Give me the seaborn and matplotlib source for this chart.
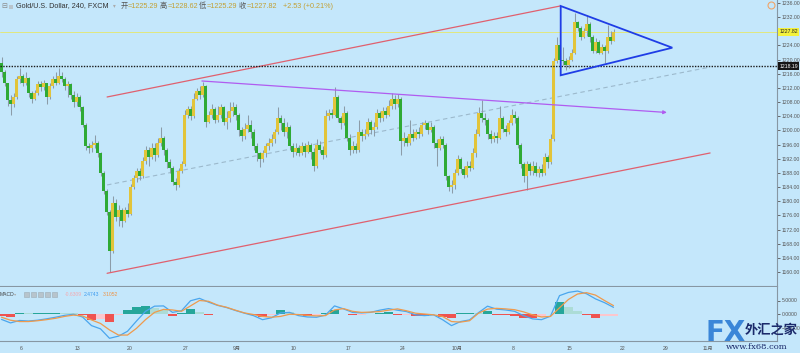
import numpy as np
import pandas as pd
import matplotlib
matplotlib.use("Agg")
import matplotlib.pyplot as plt
import matplotlib.transforms as mtransforms
from matplotlib.patches import Polygon, Rectangle
from matplotlib.lines import Line2D
from matplotlib import font_manager
import seaborn as sns

# ---------------- data ----------------
first_open = 1219.0
close = [
    1216.5, 1213.5, 1208.5, 1207.5, 1209.5, 1214.5, 1215.5, 1213.5, 1214.8, 1210.5,
    1209.0, 1210.5, 1213.0, 1212.2, 1213.4, 1209.5, 1212.5, 1214.5, 1213.5, 1215.5,
    1214.5, 1212.5, 1213.0, 1210.0, 1208.0, 1209.5, 1206.5, 1201.5, 1195.5, 1195.0,
    1196.0, 1196.5, 1193.5, 1188.0, 1183.0, 1177.0, 1166.0, 1179.5, 1175.5, 1177.5,
    1174.5, 1177.5, 1176.5, 1184.0, 1186.5, 1188.5, 1187.0, 1191.5, 1194.5, 1192.5,
    1195.0, 1193.0, 1196.5, 1198.0, 1194.5, 1191.0, 1189.5, 1185.5, 1184.5, 1188.5,
    1190.5, 1204.5, 1206.0, 1204.0, 1209.0, 1211.0, 1210.0, 1212.5, 1202.5, 1204.5,
    1206.0, 1203.0, 1204.5, 1206.5, 1202.5, 1203.5, 1205.5, 1206.5, 1204.5, 1200.0,
    1198.5, 1200.5, 1201.5, 1199.5, 1195.5, 1193.5, 1192.0, 1193.5, 1195.5, 1196.5,
    1197.5, 1199.5, 1203.5, 1202.0, 1199.5, 1201.0, 1195.5, 1194.0, 1195.0, 1193.5,
    1195.5, 1194.0, 1196.0, 1194.0, 1190.0, 1196.0, 1194.5, 1193.0, 1204.0, 1205.0,
    1204.5, 1209.5, 1203.5, 1202.0, 1205.0, 1198.0, 1194.5, 1195.5, 1194.5, 1199.5,
    1198.5, 1199.0, 1202.5, 1200.0, 1201.0, 1205.0, 1203.5, 1205.5, 1204.5, 1207.0,
    1209.0, 1207.5, 1209.0, 1197.0, 1198.0, 1196.5, 1199.0, 1198.0, 1199.5, 1199.0,
    1201.5, 1202.0, 1200.0, 1201.0, 1196.5, 1195.0, 1197.5, 1196.0, 1187.0, 1184.0,
    1184.5, 1188.0, 1192.0, 1189.0, 1187.5, 1190.0, 1189.5, 1193.5, 1199.0, 1205.0,
    1203.5, 1203.0, 1199.0, 1197.5, 1198.5, 1197.8, 1203.5, 1200.5, 1199.5, 1202.0,
    1204.5, 1203.5, 1196.0, 1190.5, 1187.0, 1190.5, 1188.5, 1190.0, 1188.0, 1189.0,
    1188.0, 1192.5, 1191.0, 1197.5, 1219.5, 1224.0, 1220.0, 1219.5, 1218.5, 1220.0,
    1222.0, 1230.5, 1229.0, 1226.5, 1228.0, 1230.0, 1226.5, 1222.5, 1225.0, 1222.0,
    1223.5, 1222.5, 1226.5, 1225.29, 1227.82,
]
high = [
    1220.8, 1217.0, 1213.5, 1210.0, 1210.5, 1215.5, 1217.6, 1216.0, 1216.5, 1215.0,
    1211.0, 1211.5, 1214.0, 1214.0, 1214.3, 1213.5, 1213.5, 1215.5, 1216.5, 1217.5,
    1216.5, 1215.0, 1214.0, 1213.5, 1211.0, 1210.5, 1210.0, 1207.0, 1202.0, 1196.5,
    1197.0, 1198.8, 1197.0, 1194.0, 1188.5, 1183.5, 1177.5, 1181.5, 1180.5, 1179.0,
    1178.0, 1178.5, 1179.5, 1185.0, 1187.5, 1189.5, 1189.5, 1192.5, 1195.5, 1195.3,
    1196.5, 1196.5, 1198.0, 1201.0, 1198.5, 1195.0, 1192.0, 1190.0, 1186.5, 1189.5,
    1191.5, 1205.8, 1207.0, 1206.8, 1210.5, 1212.0, 1212.5, 1213.8, 1212.8, 1205.5,
    1207.5, 1206.5, 1207.0, 1207.5, 1207.0, 1205.5, 1208.0, 1208.0, 1207.5, 1205.0,
    1201.0, 1202.0, 1204.5, 1203.0, 1200.5, 1196.5, 1194.0, 1194.5, 1196.5, 1198.0,
    1199.0, 1200.5, 1206.6, 1204.5, 1203.5, 1202.5, 1201.5, 1196.5, 1196.5, 1196.0,
    1196.8, 1196.5, 1197.0, 1196.5, 1195.0, 1197.5, 1197.0, 1195.5, 1205.8, 1206.0,
    1206.0, 1212.3, 1210.0, 1204.0, 1207.0, 1205.5, 1199.0, 1197.0, 1196.5, 1203.0,
    1200.5, 1200.5, 1203.5, 1203.0, 1202.5, 1206.0, 1205.5, 1206.5, 1206.5, 1208.5,
    1210.6, 1210.0, 1210.3, 1209.5, 1199.5, 1198.5, 1203.0, 1200.5, 1200.5, 1201.0,
    1202.5, 1203.0, 1202.5, 1202.5, 1201.5, 1197.5, 1198.5, 1198.5, 1196.5, 1187.5,
    1186.0, 1189.0, 1193.0, 1192.5, 1190.0, 1191.5, 1191.5, 1195.0, 1200.5, 1206.5,
    1208.6, 1205.0, 1203.5, 1200.0, 1199.5, 1199.5, 1207.0, 1204.0, 1201.5, 1203.0,
    1206.0, 1205.5, 1204.0, 1196.5, 1191.0, 1191.5, 1191.0, 1191.5, 1191.0, 1190.0,
    1190.5, 1193.5, 1193.0, 1199.0, 1220.5, 1226.4, 1224.5, 1223.7, 1220.5, 1221.0,
    1223.0, 1233.2, 1231.0, 1229.5, 1229.0, 1232.6, 1230.5, 1227.0, 1226.0, 1225.5,
    1224.5, 1224.0, 1229.8, 1228.0, 1228.62,
]
low = [
    1215.0, 1212.5, 1207.0, 1204.4, 1206.5, 1209.0, 1213.5, 1212.5, 1212.8, 1209.5,
    1207.8, 1208.5, 1210.0, 1211.0, 1211.5, 1207.5, 1209.0, 1212.0, 1212.8, 1213.0,
    1213.8, 1211.5, 1209.5, 1209.0, 1206.5, 1206.8, 1205.5, 1201.0, 1194.5, 1193.5,
    1194.0, 1195.0, 1192.5, 1187.0, 1182.0, 1176.0, 1160.1, 1165.5, 1174.5, 1173.0,
    1172.8, 1174.0, 1175.5, 1176.0, 1183.5, 1185.5, 1186.0, 1186.5, 1190.5, 1190.0,
    1192.0, 1191.5, 1192.5, 1195.5, 1193.0, 1189.5, 1188.0, 1184.5, 1183.2, 1184.0,
    1188.0, 1190.0, 1203.5, 1203.0, 1203.5, 1208.5, 1209.0, 1209.5, 1201.0, 1202.0,
    1203.5, 1202.0, 1202.5, 1203.5, 1201.5, 1200.5, 1202.5, 1204.0, 1203.0, 1198.5,
    1197.0, 1197.5, 1199.5, 1198.0, 1194.5, 1191.5, 1189.7, 1191.0, 1192.5, 1194.5,
    1195.5, 1196.5, 1199.0, 1200.0, 1198.5, 1198.0, 1194.5, 1192.5, 1193.0, 1192.8,
    1193.0, 1192.5, 1193.5, 1192.0, 1188.5, 1189.5, 1193.5, 1191.8, 1192.5, 1203.0,
    1203.5, 1204.0, 1202.5, 1200.5, 1201.5, 1197.0, 1193.2, 1193.5, 1193.6, 1194.0,
    1197.0, 1197.5, 1198.5, 1199.0, 1198.5, 1200.5, 1202.5, 1202.8, 1203.5, 1204.0,
    1206.0, 1206.0, 1206.5, 1193.0, 1195.5, 1195.5, 1196.0, 1197.0, 1197.5, 1198.0,
    1198.5, 1200.5, 1199.0, 1199.5, 1195.0, 1190.0, 1194.5, 1195.0, 1186.0, 1182.8,
    1182.3, 1183.5, 1187.5, 1188.0, 1186.5, 1186.8, 1188.5, 1189.0, 1192.5, 1198.5,
    1202.5, 1201.5, 1197.5, 1196.5, 1196.8, 1196.5, 1197.5, 1199.5, 1198.5, 1199.0,
    1201.5, 1202.0, 1195.0, 1189.5, 1185.5, 1183.2, 1187.5, 1187.5, 1187.0, 1186.8,
    1187.0, 1187.5, 1189.5, 1190.5, 1197.0, 1219.0, 1219.0, 1218.5, 1217.0, 1217.5,
    1219.5, 1221.5, 1228.0, 1225.5, 1226.0, 1226.8, 1225.0, 1221.8, 1222.0, 1221.5,
    1221.5, 1219.0, 1222.0, 1224.5, 1225.29,
]

# MACD (12,26,9) read every third bar
macd_line = [
    -2.0, -3.3, -2.4, -2.6, -2.3, -1.8, -1.2, -0.5, -0.1, -1.1,
    -4.3, -5.5, -9.0, -8.2, -6.4, -2.6, 1.0, 2.9, 3.0, 0.6,
    1.2, 4.9, 5.8, 4.4, 3.2, 2.4, 1.3, 0.3, -0.6, -2.1,
    -1.4, 0.4, 0.6, -0.6, -1.1, -1.2, -0.4, 3.0, 1.9, 0.6,
    0.4, 0.6, 1.4, 2.0, 1.4, 0.9, -0.3, -0.6, -0.3, -2.1,
    -4.3, -2.8, -2.2, 0.5, 2.9, 1.8, 1.5, 1.0, -0.6, -1.8,
    -2.1, -0.8, 6.8, 8.0, 8.5, 7.5, 5.6, 4.2, 2.4743,
]
signal_line = [
    -1.2, -2.3, -2.8, -2.8, -2.5, -2.1, -1.6, -0.9, -0.4, -0.7,
    -2.2, -3.5, -5.9, -7.8, -7.8, -5.3, -2.1, 0.6, 1.7, 1.5,
    1.0, 3.0, 5.0, 4.7, 3.3, 2.5, 1.4, 0.4, -0.2, -0.9,
    -1.2, -0.9, -0.1, -0.2, -0.5, -0.7, -0.6, 1.5, 2.0, 1.0,
    0.6, 0.7, 0.9, 1.4, 1.9, 1.2, 0.3, 0.0, -0.3, -0.9,
    -2.8, -3.0, -2.5, 0.3, 1.8, 2.1, 1.9, 1.6, 0.8, -0.3,
    -1.1, -0.9, 2.3, 5.4, 7.4, 7.9, 7.0, 5.0, 3.1052,
]
macd_step = 3

# trend-line drawings (bar index, price)
channel_upper = [(35.2, 1209.45), (186.2, 1235.15)]
channel_lower = [(35.2, 1159.64), (236.2, 1193.63)]
channel_mid = [(35.2, 1184.6), (236.2, 1217.9)]
purple_line = [(66.8, 1213.97), (221.8, 1205.07)]
triangle = [(186.4, 1235.15), (186.4, 1215.58), (223.6, 1223.37)]
dotted_level = 1218.19
last_price = 1227.82

x_tick_pos = [6.5, 25.2, 42.8, 61.5, 78.5, 97.5, 115.8, 133.8, 151.8, 170.5, 189.2, 207.2, 221.5, 235.5]
x_tick_lab = ["6", "13", "20", "27", "9月", "10", "17", "24", "10月", "8", "15", "22", "29", "11月"]

# ---------------- style ----------------
BG = "#c4e7fb"
UP = "#e2c43a"
DN = "#2faa35"
WICK = "#8c9ca8"
AXC = "#8797a3"
TXT = "#555555"

sns.set_theme(style="white", rc={"axes.facecolor": BG, "figure.facecolor": BG})
plt.rcParams["font.family"] = ["Liberation Sans", "Noto Sans CJK SC", "DejaVu Sans"]

names = {f.name for f in font_manager.fontManager.ttflist}
if "Liberation Sans Narrow" in names:
    AXFONT = ["Liberation Sans Narrow", "Noto Sans CJK SC", "DejaVu Sans"]
    AXFS = 4.6
else:
    AXFONT = ["Liberation Sans", "Noto Sans CJK SC", "DejaVu Sans"]
    AXFS = 3.7

W, H = 800, 353
fig = plt.figure(figsize=(W / 100, H / 100), dpi=100, facecolor=BG)


def fx(px):
    return px / W


def fy(py):
    return 1 - py / H


ax = fig.add_axes([0, fy(286), fx(777), 286 / H])
ax2 = fig.add_axes([0, fy(341), fx(777), (341 - 287) / H])
for a in (ax, ax2):
    a.set_facecolor(BG)
    for s in ("top", "left"):
        a.spines[s].set_visible(False)
    for s in ("right", "bottom"):
        a.spines[s].set_color(AXC)
        a.spines[s].set_linewidth(0.8)

# ---------------- candles ----------------
c = np.asarray(close)
hi = np.asarray(high)
lo = np.asarray(low)
o = np.r_[first_open, c[:-1]]
idx = np.arange(len(c))
up = c >= o
body_lo = np.minimum(o, c)
body_h = np.maximum(np.abs(c - o), 0.25)
ax.vlines(idx, np.minimum(lo, body_lo), np.maximum(hi, body_lo + body_h),
          color=WICK, lw=0.75, zorder=2)
ax.bar(idx, body_h, bottom=body_lo, width=0.7,
       color=np.where(up, UP, DN), linewidth=0, zorder=3)

# ---------------- drawings ----------------
def seg(pts, **kw):
    xs, ys = zip(*pts)
    ax.plot(xs, ys, **kw)

seg(channel_upper, color="#e0606e", lw=0.9, zorder=4)
seg(channel_lower, color="#e0606e", lw=0.9, zorder=4)
seg(channel_mid, color="#9cb9cc", lw=0.8, ls=(0, (4, 3)), zorder=1)
ax.annotate("", xy=purple_line[1], xytext=purple_line[0],
            arrowprops=dict(arrowstyle="-|>", color="#b05cf0", lw=0.9,
                            mutation_scale=5, shrinkA=0, shrinkB=0), zorder=4)
ax.add_patch(Polygon(triangle, closed=True, fill=False, edgecolor="#1f3de6",
                     lw=1.3, zorder=5))
ax.axhline(last_price, color="#e6e86a", lw=0.6, zorder=1)
ax.axhline(dotted_level, color="#1a1a1a", lw=1.0, ls=(0, (1, 1)), zorder=4)

ax.set_xlim(-0.5, 258.5)
ax.set_ylim(1156.05, 1236.85)
ax.set_xticks([])
ax.yaxis.tick_right()
yt = [v for v in np.arange(1160, 1237, 4) if abs(v - last_price) > 1.5]
ax.set_yticks(yt)
ax.yaxis.set_major_formatter("{x:.2f}")
ax.tick_params(axis="y", labelsize=AXFS, colors=TXT, length=2.5, width=0.6, pad=1.2)
for t in ax.get_yticklabels():
    t.set_family(AXFONT)
ax.set_ylabel("")

blend = mtransforms.blended_transform_factory(ax.transAxes, ax.transData)
ax.text(1.003, last_price, "1227.82", transform=blend, fontsize=AXFS, color="#222",
        va="center", ha="left", zorder=10, clip_on=False, family=AXFONT,
        bbox=dict(facecolor="#f4f23c", edgecolor="none", pad=0.9))
ax.text(1.003, dotted_level, "1218.19", transform=blend, fontsize=AXFS, color="white",
        va="center", ha="left", zorder=10, clip_on=False, family=AXFONT,
        bbox=dict(facecolor="#151515", edgecolor="none", pad=0.9))

# ---------------- MACD ----------------
mx = np.arange(len(macd_line)) * macd_step
m = np.asarray(macd_line)
sg = np.asarray(signal_line)
hist = m - sg
prev = np.r_[hist[0], hist[:-1]]
hcol = np.where(hist >= 0,
                np.where(hist >= prev, "#26a69a", "#acdcd6"),
                np.where(hist <= prev, "#ef5350", "#fcc6cd"))
ax2.bar(mx, hist, width=macd_step, color=hcol, linewidth=0, zorder=2)
mdf = pd.DataFrame({"x": mx, "macd": m, "signal": sg})
sns.lineplot(data=mdf, x="x", y="macd", ax=ax2, color="#4aa6ee", lw=0.9, zorder=3)
sns.lineplot(data=mdf, x="x", y="signal", ax=ax2, color="#ef9a4c", lw=0.9, zorder=3)
ax2.set_xlim(-0.5, 258.5)
ax2.set_ylim(-10, 10)
ax2.set_xlabel("")
ax2.set_ylabel("")
ax2.yaxis.tick_right()
ax2.set_yticks([-5, 0, 5])
ax2.yaxis.set_major_formatter("{x:.4f}")
ax2.tick_params(axis="y", labelsize=AXFS, colors=TXT, length=2.5, width=0.6, pad=1.2)
ax2.set_xticks(x_tick_pos)
ax2.set_xticklabels(x_tick_lab)
ax2.tick_params(axis="x", labelsize=AXFS, colors=TXT, length=2, width=0.6, pad=1.3)
for t in ax2.get_yticklabels() + ax2.get_xticklabels():
    t.set_family(AXFONT)

# ---------------- header texts ----------------
fs = 5.2
fig.text(fx(1), fy(6), "⊟", fontsize=5, color="#888", va="center", family=["DejaVu Sans"])
fig.add_artist(Rectangle((fx(9), fy(8.5)), 4 / W, 4 / H, transform=fig.transFigure,
                         facecolor="#b8c4cc", edgecolor="none"))
fig.text(fx(16), fy(6), "Gold/U.S. Dollar, 240, FXCM", fontsize=fs, color="#333", va="center")
fig.text(fx(113), fy(6), "▾", fontsize=4, color="#aaa", va="center", family=["DejaVu Sans"])
GOLD = "#c2a034"
for lab, px, val, pv in [("开", 120.5, "=1225.29", 128), ("高", 160, "=1228.62", 167.5),
                         ("低", 199, "=1225.29", 206.5), ("收", 239, "=1227.82", 246.5)]:
    fig.text(fx(px), fy(6), lab, fontsize=fs, color="#555", va="center",
             family=["Noto Sans CJK SC"])
    fig.text(fx(pv), fy(6), val, fontsize=fs, color=GOLD, va="center")
fig.text(fx(283), fy(6), "+2.53 (+0.21%)", fontsize=fs, color=GOLD, va="center")
fig.add_artist(Line2D([fx(771)], [fy(5)], marker="o", mfc="none", mec="#f0a468",
                      ms=5, mew=0.8, transform=fig.transFigure))

hfs = 3.6
fig.text(fx(0), fy(294), "MACD", fontsize=hfs, color="#444", va="center")
fig.text(fx(14), fy(294), "▾", fontsize=3.2, color="#aaa", va="center", family=["DejaVu Sans"])
for bx in (24, 31, 38, 45, 52):
    fig.add_artist(Rectangle((fx(bx), fy(296.5)), 5 / W, 5 / H, transform=fig.transFigure,
                             facecolor="#b7c4cc", edgecolor="#9eacb5", lw=0.4))
fig.text(fx(65), fy(294), "-0.6309", fontsize=hfs, color="#f5a9b0", va="center")
fig.text(fx(84), fy(294), "2.4743", fontsize=hfs, color="#3d9cf0", va="center")
fig.text(fx(103), fy(294), "3.1052", fontsize=hfs, color="#ee9244", va="center")

# ---------------- watermark ----------------
fig.text(fx(705), fy(333), "FX", fontsize=20, fontweight="bold", color="#3a86d8",
         va="center", ha="left", family=["DejaVu Sans"])
fig.text(fx(745), fy(330), "外汇之家", fontsize=9.5, fontweight="bold", color="#1b2a6b",
         va="center", ha="left", family=["Noto Sans CJK SC", "DejaVu Sans"])
fig.text(fx(726), fy(347), "www.fx68.com", fontsize=6, color="#1b2a6b",
         va="center", ha="left", family=["DejaVu Serif"])

fig.savefig("out.png", dpi=100, facecolor=BG)
